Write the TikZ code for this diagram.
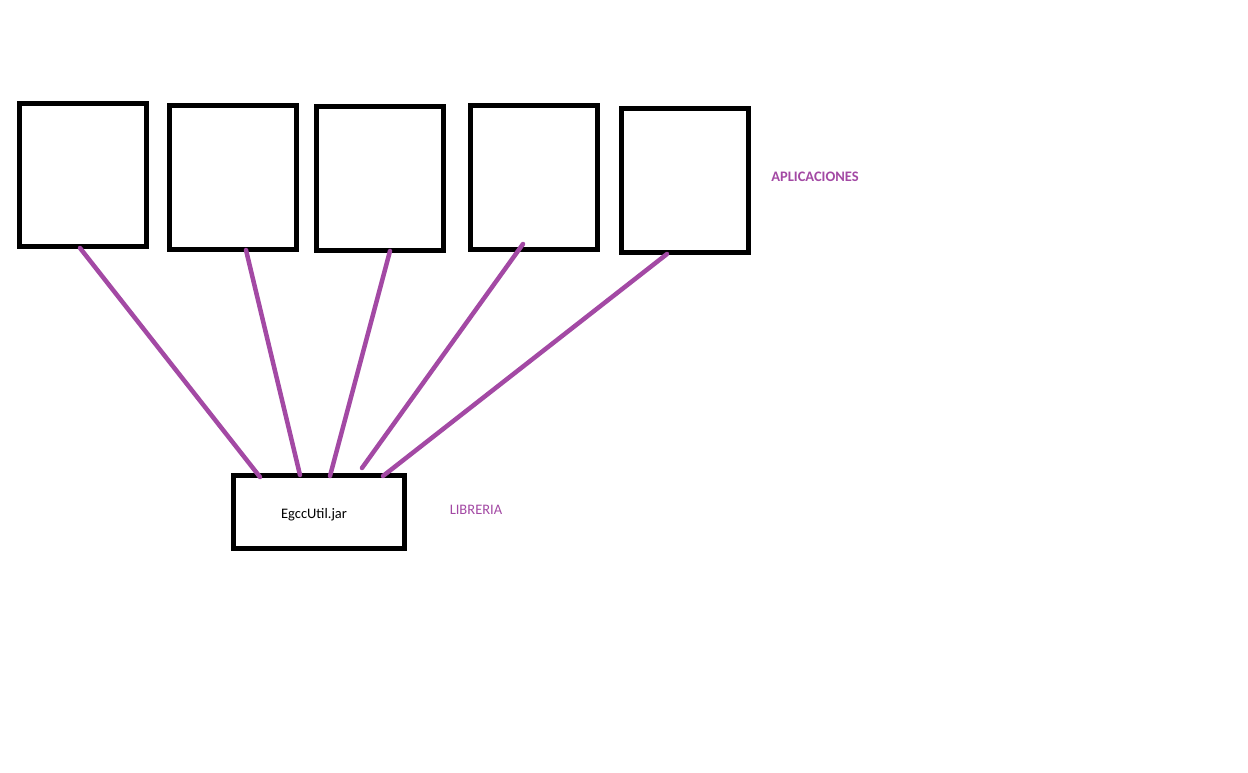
\documentclass[tikz,border=0pt]{standalone}
\usepackage{fontspec}
\setmainfont{Carlito}
\definecolor{linkpurple}{HTML}{A349A4}
\begin{document}
\begin{tikzpicture}[x=1pt,y=-1pt,
  appbox/.style={draw=black,line width=5pt,fill=white,inner sep=0pt,outer sep=0pt,
                 minimum width=127pt},
  libbox/.style={draw=black,line width=5pt,fill=white,inner sep=0pt,outer sep=0pt,
                 minimum width=171pt,minimum height=73pt},
  link/.style={draw=linkpurple,line width=4.5pt,line cap=round},
  lbl/.style={inner sep=0pt,anchor=base,font=\fontsize{14.5pt}{16pt}\selectfont}]
\useasboundingbox[fill=white] (0,0) rectangle (1248,773);

% application boxes
\node[appbox,minimum height=143pt] (a1) at (83,175)    {};
\node[appbox,minimum height=144pt] (a2) at (233,177.5) {};
\node[appbox,minimum height=144pt] (a3) at (380,178.5) {};
\node[appbox,minimum height=144pt] (a4) at (534,177.5) {};
\node[appbox,minimum height=144pt] (a5) at (685,180.5) {};

% shared library box
\node[libbox] (lib) at (319,512) {};
\node[lbl] (libname) at (314,518) {EgccUtil.jar};

% labels
\node[lbl,text=linkpurple,font=\fontsize{14.5pt}{16pt}\selectfont\bfseries] (apps) at (815,182) {APLICACIONES};
\node[lbl,text=linkpurple] (libtag) at (476,514.5) {LIBRERIA};

% links from each application to the library
\draw[link] ([shift={(-3,1.5)}]a1.south)  -- ([shift={(-59,1.5)}]lib.north);
\draw[link] ([shift={(13,0.5)}]a2.south)  -- ([shift={(-19,-0.5)}]lib.north);
\draw[link] ([shift={(10,0.5)}]a3.south)  -- ([shift={(11,0.5)}]lib.north);
\draw[link] ([shift={(-11,-5.5)}]a4.south) -- ([shift={(43,-7.5)}]lib.north);
\draw[link] ([shift={(-18,1.5)}]a5.south) -- ([shift={(64,0.5)}]lib.north);
\end{tikzpicture}
\end{document}
